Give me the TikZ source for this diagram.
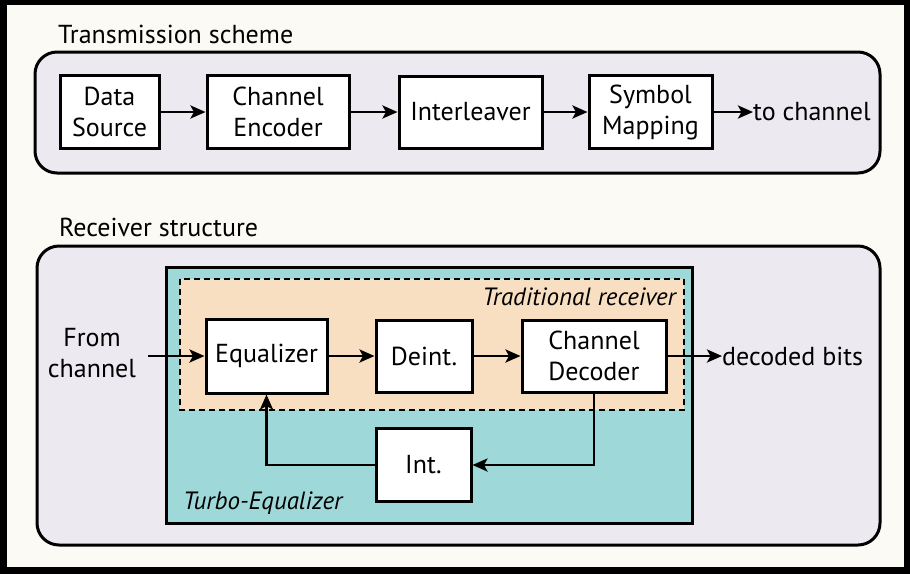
\documentclass[tikz,border=0pt]{standalone}
\usepackage{fontspec}
\setmainfont{PT Sans}
\usetikzlibrary{arrows.meta,positioning}
\definecolor{cream}{HTML}{FCFAF4}
\definecolor{lav}{HTML}{EDE9F0}
\definecolor{teal}{HTML}{9ED8D8}
\definecolor{peach}{HTML}{F9DFC1}
\begin{document}
\begin{tikzpicture}[x=1pt,y=-1pt,
  blk/.style={draw=black,line width=3pt,fill=white,inner sep=0pt,align=center,
    font=\fontsize{26}{31}\selectfont},
  lbl/.style={inner sep=0pt,align=center,font=\fontsize{26}{31}\selectfont},
  ttl/.style={inner sep=0pt,anchor=base west,font=\fontsize{26}{31}\selectfont},
  itl/.style={inner sep=0pt,font=\fontsize{25}{31}\selectfont\itshape},
  conn/.style={line width=2.8pt,-{Stealth[length=15pt,width=13pt,inset=3.5pt]}},
  panel/.style={draw=black,line width=3pt,fill=lav,rounded corners=22pt}]
\useasboundingbox (0,0) rectangle (910,574);
\fill[black] (0,0) rectangle (910,574);
\fill[cream] (7,5) rectangle (904,567);
% transmission
\node[ttl] (t1) at (58,43) {Transmission scheme};
\draw[panel] (35,52) rectangle (880,173);
\node[blk,minimum width=99pt,minimum height=73pt] (ds) at (109.5,112) {Data\\Source};
\node[blk,minimum width=142pt,minimum height=73pt] (ce) at (278,112) {Channel\\Encoder};
\node[blk,minimum width=143pt,minimum height=72pt] (il) at (470.5,112) {Interleaver};
\node[blk,minimum width=123pt,minimum height=73pt] (sm) at (650.5,112) {Symbol\\Mapping};
\node[lbl,anchor=west] (tc) at (753,112) {to channel};
\draw[conn] (ds.east) -- (ce.west);
\draw[conn] (ce.east) -- (il.west);
\draw[conn] (il.east) -- (sm.west);
\draw[conn] (sm.east) -- (tc.west);
% receiver
\node[ttl] (t2) at (59,236) {Receiver structure};
\draw[panel] (37,246) rectangle (880,545);
\draw[line width=3pt,fill=teal] (166,267) rectangle (692,523);
\draw[line width=2.4pt,dash pattern=on 6pt off 4pt,fill=peach] (180,279) rectangle (684,410);
\node[itl,anchor=base east] (tr) at (676,305) {Traditional receiver};
\node[itl,anchor=base west] (te) at (183,509) {Turbo-Equalizer};
\node[blk,minimum width=121pt,minimum height=74pt] (eq) at (266.5,356) {Equalizer};
\node[blk,minimum width=96pt,minimum height=72pt] (di) at (424,356) {Deint.};
\node[blk,minimum width=144pt,minimum height=72pt] (cd) at (594,356) {Channel\\Decoder};
\node[blk,minimum width=95pt,minimum height=73pt] (in) at (423.5,465) {Int.};
\node[lbl] (fc) at (92,353) {From\\channel};
\coordinate (fcs) at (148,356);
\node[lbl,anchor=west] (db) at (722,356) {decoded bits};
\draw[conn] (fcs) -- (eq.west);
\draw[conn] (eq.east) -- (di.west);
\draw[conn] (di.east) -- (cd.west);
\draw[conn] (cd.east) -- (db.west);
\draw[conn] (cd.south) |- (in.east);
\draw[conn] (in.west) -| (eq.south);
\end{tikzpicture}
\end{document}
